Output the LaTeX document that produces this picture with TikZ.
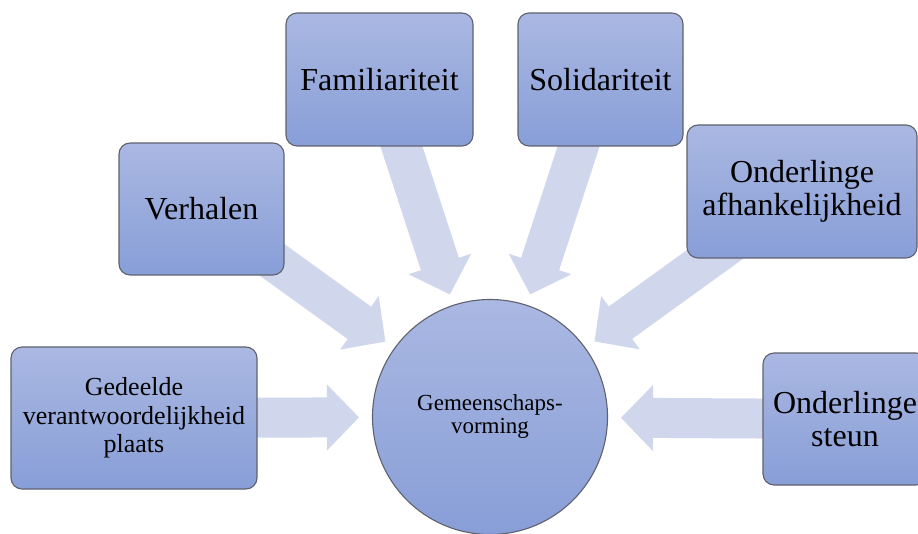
\documentclass[tikz,border=0pt]{standalone}
\usepackage{fontspec}
\setmainfont{Liberation Serif}
\usetikzlibrary{calc}
\definecolor{boxtop}{RGB}{170,184,226}
\definecolor{boxbot}{RGB}{136,158,215}
\definecolor{arrowfill}{RGB}{208,215,236}
\definecolor{boxline}{RGB}{95,98,110}
\tikzset{
  box/.style={draw=boxline, line width=1.1pt, rounded corners=11pt, top color=boxtop, bottom color=boxbot,
    align=center, inner sep=0pt, font=\fontsize{32}{33}\selectfont},
  hub/.style={circle, draw=boxline, line width=1.1pt, top color=boxtop, bottom color=boxbot,
    align=center, inner sep=0pt, minimum size=235pt, font=\fontsize{23}{23}\selectfont},
  bigarrow/.style={fill=arrowfill, draw=none}
}
\newcommand{\bigarr}[2]{%
  \fill[bigarrow] (#2) -- ($($(#2)!32pt!(#1)$)!33pt!90:(#2)$) -- ($($(#2)!32pt!(#1)$)!20pt!90:(#2)$)
    -- ($(#1)!20pt!90:(#2)$) -- ($(#1)!20pt!-90:(#2)$)
    -- ($($(#2)!32pt!(#1)$)!20pt!-90:(#2)$) -- ($($(#2)!32pt!(#1)$)!33pt!-90:(#2)$) -- cycle;}
\begin{document}
\begin{tikzpicture}[x=1pt,y=-1pt]
\useasboundingbox (0,0) rectangle (918,534);
\clip (0,0) rectangle (918,534);
% node positions
\coordinate (c) at (490,417);
\coordinate (pged) at (134,418);
\coordinate (pver) at (201.5,209);
\coordinate (pfam) at (379.5,79.5);
\coordinate (psol) at (600.5,79.5);
\coordinate (pafh) at (802,191.5);
\coordinate (pste) at (845,419);
% arrow tips
\coordinate (tged) at ($(c)!131pt!(pged)$);
\coordinate (tver) at ($(c)!129pt!(pver)$);
\coordinate (tfam) at ($(c)!129pt!(pfam)$);
\coordinate (tsol) at ($(c)!129pt!(psol)$);
\coordinate (tafh) at ($(c)!129pt!(pafh)$);
\coordinate (tste) at ($(c)!131pt!(pste)$);
% arrows
\bigarr{pged}{tged}
\bigarr{pver}{tver}
\bigarr{pfam}{tfam}
\bigarr{psol}{tsol}
\bigarr{pafh}{tafh}
\bigarr{pste}{tste}
% nodes
\node[hub] (hub) at (c) {Gemeenschaps-\\vorming};
\node[box, minimum width=246pt, minimum height=142pt, font=\fontsize{26}{28.5}\selectfont] (ged) at (pged) {Gedeelde\\verantwoordelijkheid\\plaats};
\node[box, minimum width=165pt, minimum height=132pt] (ver) at (pver) {Verhalen};
\node[box, minimum width=187pt, minimum height=133pt] (fam) at (pfam) {Familiariteit};
\node[box, minimum width=165pt, minimum height=133pt] (sol) at (psol) {Solidariteit};
\node[box, minimum width=230pt, minimum height=133pt] (afh) at (pafh) {Onderlinge\\afhankelijkheid};
\node[box, minimum width=164pt, minimum height=132pt] (ste) at (pste) {Onderlinge\\steun};
\end{tikzpicture}
\end{document}
